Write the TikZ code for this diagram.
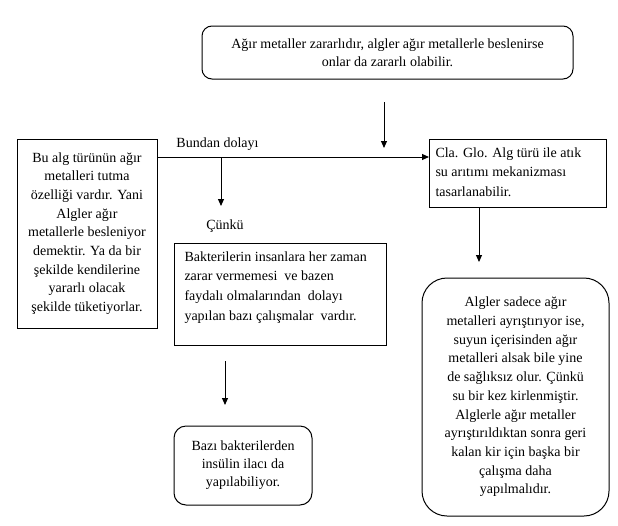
\documentclass[tikz,border=0pt]{standalone}
\usepackage{fontspec}
\setmainfont{Liberation Serif}
\usetikzlibrary{arrows.meta}
\begin{document}
\begin{tikzpicture}[x=1pt,y=-1pt,
  every node/.style={font=\fontsize{14pt}{18.7pt}\selectfont},
  box/.style={draw, line width=1pt, inner sep=0pt},
  rbox/.style={box, rounded corners=10pt},
  arr/.style={line width=1pt, -{Triangle[length=7pt,width=6pt]}},
  lbl/.style={inner sep=1pt}
]
\useasboundingbox (0,0) rectangle (618,525);

\node[rbox, minimum width=371pt, minimum height=53pt, align=center,
      font=\fontsize{14pt}{17.7pt}\selectfont] (top) at (387.5,52.5)
  {Ağır metaller zararlıdır, algler ağır metallerle beslenirse\\onlar da zararlı olabilir.};

\node[box, minimum width=140pt, minimum height=189pt, align=center] (left) at (87,233.5)
  {Bu alg türünün ağır\\metalleri tutma\\özelliği vardır. Yani\\Algler ağır\\metallerle besleniyor\\demektir. Ya da bir\\şekilde kendilerine\\yararlı olacak\\şekilde tüketiyorlar.};

\node[box, anchor=north west, inner xsep=6pt, inner ysep=8pt] (cla) at (429,139)
  {\parbox[c][52pt][t]{165pt}{\raggedright\fontsize{14pt}{19.6pt}\selectfont Cla. Glo. Alg türü ile atık\\su arıtımı mekanizması\\tasarlanabilir.}};

\node[box, anchor=north west, inner xsep=10pt, inner ysep=8pt] (bak) at (174,243)
  {\parbox[c][86pt][t]{192pt}{\raggedright\fontsize{14pt}{19.6pt}\selectfont Bakterilerin insanlara her zaman\\zarar vermemesi\ \ ve bazen\\faydalı olmalarından\ \ dolayı\\yapılan bazı çalışmalar\ \ vardır.}};

\node[rbox, rounded corners=12pt, minimum width=138pt, minimum height=79pt, align=center,
      font=\fontsize{14pt}{18pt}\selectfont] (bazi) at (243,465.5)
  {Bazı bakterilerden\\insülin ilacı da\\yapılabiliyor.};

\node[rbox, rounded corners=25pt, minimum width=187pt, minimum height=238pt, align=center] (res) at (515.5,397)
  {Algler sadece ağır\\metalleri ayrıştırıyor ise,\\suyun içerisinden ağır\\metalleri alsak bile yine\\de sağlıksız olur. Çünkü\\su bir kez kirlenmiştir.\\Alglerle ağır metaller\\ayrıştırıldıktan sonra geri\\kalan kir için başka bir\\çalışma daha\\yapılmalıdır.};

\node[lbl] (bd) at (217.5,144) {Bundan dolayı};
\node[lbl] (ck) at (225,226) {Çünkü};

\coordinate (hy) at (0,157);
\draw[arr] (left.east |- hy) -- (cla.west |- hy);
\coordinate (br) at (221,157);
\coordinate (brend) at (221,206);
\draw[arr] (br) -- (brend);
\coordinate (ta) at (384,102);
\coordinate (tb) at (384,148);
\draw[arr] (ta) -- (tb);
\coordinate (cx) at (479,0);
\coordinate (ce) at (479,262);
\draw[arr] (cla.south -| cx) -- (ce);
\coordinate (bs) at (225,361);
\coordinate (be) at (225,405);
\draw[arr] (bs) -- (be);
\end{tikzpicture}
\end{document}
